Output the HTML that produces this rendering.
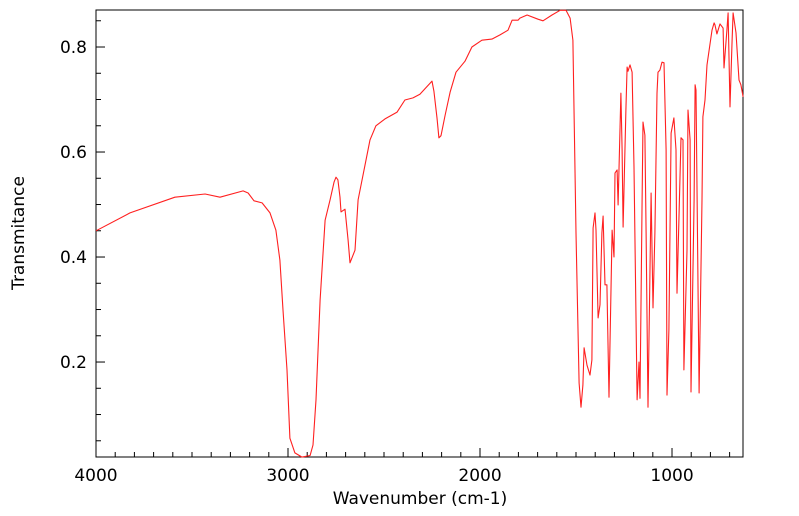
<!DOCTYPE html>
<html><head><meta charset="utf-8"><style>
html,body{margin:0;padding:0;background:#fff;}
svg{display:block;font-family:"DejaVu Sans","Liberation Sans",sans-serif;}
</style></head><body>
<svg id="chart" width="799" height="516" viewBox="0 0 799 516">
<rect x="96" y="10" width="647" height="447" fill="none" stroke="#000" stroke-width="1"/>
<g id="ticks"></g>
<g id="labels"></g>
<path id="line" fill="none" stroke="#ff2020" stroke-width="1.1" stroke-linejoin="round"/>
<text x="420" y="504" font-size="17" text-anchor="middle">Wavenumber (cm-1)</text>
<text x="24" y="233" font-size="17" text-anchor="middle" transform="rotate(-90 24 233)">Transmitance</text>
</svg>
<script>
const wavenumbers = [4000,3823,3589,3432,3354,3234,3208,3177,3135,3094,3063,3042,3026,3005,2990,2964,2927,2885,2870,2854,2833,2807,2781,2760,2750,2740,2729,2724,2703,2687,2677,2651,2635,2599,2573,2542,2495,2432,2391,2349,2313,2250,2240,2224,2214,2203,2182,2156,2125,2078,2042,1990,1938,1896,1854,1833,1802,1792,1755,1698,1672,1625,1583,1552,1531,1516,1500,1484,1474,1464,1458,1443,1427,1417,1411,1401,1396,1385,1375,1365,1359,1349,1339,1328,1312,1302,1297,1286,1281,1266,1260,1255,1240,1234,1229,1219,1208,1198,1182,1172,1167,1156,1151,1141,1135,1125,1109,1099,1089,1078,1073,1063,1052,1042,1031,1026,1016,1005,990,979,974,964,953,943,938,922,917,906,901,885,880,875,859,844,839,828,818,792,781,776,766,750,734,729,714,708,698,687,682,667,651,641,630];
const transmittance = [0.450,0.484,0.514,0.520,0.514,0.526,0.522,0.507,0.503,0.484,0.451,0.394,0.299,0.185,0.055,0.027,0.019,0.022,0.042,0.128,0.318,0.470,0.509,0.543,0.552,0.547,0.514,0.486,0.491,0.432,0.389,0.413,0.509,0.575,0.623,0.650,0.663,0.676,0.699,0.703,0.710,0.735,0.716,0.665,0.627,0.631,0.670,0.714,0.752,0.773,0.800,0.813,0.815,0.823,0.832,0.851,0.851,0.855,0.861,0.853,0.850,0.861,0.870,0.870,0.855,0.813,0.446,0.160,0.114,0.156,0.227,0.194,0.175,0.204,0.455,0.484,0.451,0.284,0.309,0.446,0.478,0.347,0.347,0.133,0.451,0.400,0.560,0.566,0.499,0.712,0.604,0.457,0.680,0.762,0.754,0.766,0.752,0.571,0.128,0.200,0.131,0.509,0.657,0.632,0.446,0.114,0.522,0.303,0.446,0.712,0.752,0.756,0.771,0.770,0.604,0.137,0.261,0.636,0.665,0.604,0.331,0.470,0.627,0.623,0.185,0.413,0.680,0.623,0.143,0.509,0.728,0.718,0.141,0.509,0.667,0.699,0.766,0.832,0.846,0.842,0.825,0.844,0.836,0.760,0.832,0.865,0.686,0.813,0.865,0.827,0.737,0.728,0.705];
const xTickLabels = [4000,3000,2000,1000];
const yTickLabels = [0.2,0.4,0.6,0.8];

const X0=96,X1=743,Y0=10,Y1=457;
const xMax=4000,xMin=630.3,yMax=0.8705,yMin=0.0191;
function xs(v){return X0+(xMax-v)/(xMax-xMin)*(X1-X0);}
function ys(v){return Y0+(yMax-v)/(yMax-yMin)*(Y1-Y0);}
const NS="http://www.w3.org/2000/svg";
let d="";
for(let i=0;i<wavenumbers.length;i++){d+=(i?"L":"M")+xs(wavenumbers[i]).toFixed(1)+","+ys(transmittance[i]).toFixed(1);}
document.getElementById("line").setAttribute("d",d);
const tg=document.getElementById("ticks"),lg=document.getElementById("labels");
function ln(x1,y1,x2,y2,name){const l=document.createElementNS(NS,"line");l.setAttribute("x1",x1);l.setAttribute("y1",y1);l.setAttribute("x2",x2);l.setAttribute("y2",y2);l.setAttribute("stroke","#000");


tg.appendChild(l);}
for(let v=700;v<=4000;v+=100){const x=xs(v);const major=v%1000===0;ln(x,Y1,x,Y1-(major?9:5),major?"x-major-tick":"x-minor-tick");}
for(let v=0.05;v<=0.86;v+=0.05){const y=ys(v);const major=Math.abs(v*10-Math.round(v*10))<1e-6&&Math.round(v*10)%2===0;ln(X0,y,X0+(major?9:5),y,major?"y-major-tick":"y-minor-tick");}
xTickLabels.forEach(v=>{const t=document.createElementNS(NS,"text");t.setAttribute("x",xs(v));t.setAttribute("y",481);t.setAttribute("font-size","17");t.setAttribute("text-anchor","middle");t.textContent=v;


lg.appendChild(t);});
yTickLabels.forEach(v=>{const t=document.createElementNS(NS,"text");t.setAttribute("x",87);t.setAttribute("y",ys(v)+6);t.setAttribute("font-size","17");t.setAttribute("text-anchor","end");t.textContent=v.toFixed(1);


lg.appendChild(t);});
</script>
</body></html>
